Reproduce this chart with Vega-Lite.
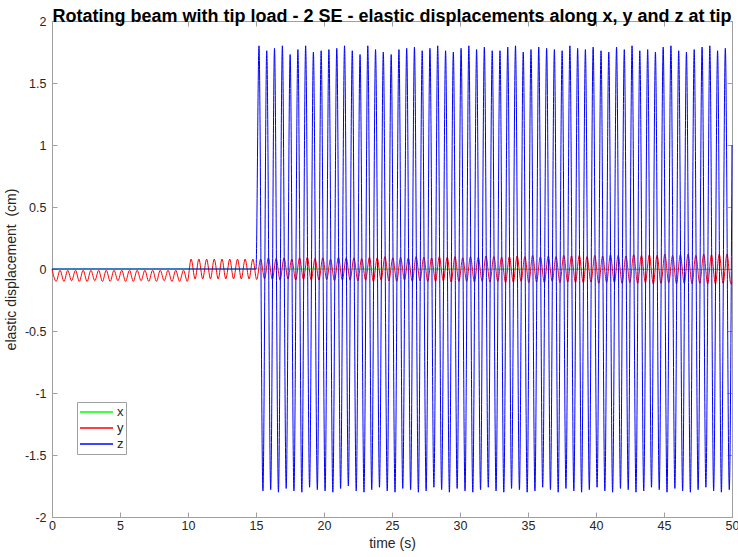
{
  "$schema": "https://vega.github.io/schema/vega-lite/v6.json",
  "width": 680,
  "height": 496,
  "autosize": {"type": "none"},
  "padding": {"left": 52, "top": 21, "right": 6, "bottom": 40},
  "background": "white",
  "title": {"text": "Rotating beam with tip load - 2 SE - elastic displacements along x, y and z at tip", "font": "Liberation Sans", "fontSize": 18, "fontWeight": "bold", "color": "#000000", "anchor": "middle", "frame": "group", "offset": -11},
  "config": {
    "view": {"stroke": "#a0a0a0"},
    "axis": {"domainColor": "#a0a0a0", "tickColor": "#a0a0a0", "tickSize": -5, "labelFont": "Liberation Sans", "labelFontSize": 12.5, "labelColor": "#262626", "titleFont": "Liberation Sans", "titleFontSize": 14, "titleFontWeight": "normal", "titleColor": "#262626", "grid": false}
  },
  "data": {"values": [
    {"s":"x","t":0,"v":0},{"s":"x","t":15,"v":0},{"s":"x","t":50,"v":-0.003},
    {"s":"y","t":0,"v":0},
    {"s":"y","t":0.31,"v":-0.1},{"s":"y","t":0.59,"v":-0.01},{"s":"y","t":0.88,"v":-0.1},{"s":"y","t":1.16,"v":-0.01},{"s":"y","t":1.44,"v":-0.095},{"s":"y","t":1.73,"v":-0.01},{"s":"y","t":2.01,"v":-0.1},{"s":"y","t":2.29,"v":-0.01},{"s":"y","t":2.58,"v":-0.1},{"s":"y","t":2.86,"v":-0.01},{"s":"y","t":3.15,"v":-0.095},{"s":"y","t":3.43,"v":-0.01},{"s":"y","t":3.71,"v":-0.1},{"s":"y","t":3.99,"v":-0.01},{"s":"y","t":4.28,"v":-0.1},{"s":"y","t":4.56,"v":-0.01},{"s":"y","t":4.85,"v":-0.095},{"s":"y","t":5.13,"v":-0.01},{"s":"y","t":5.41,"v":-0.1},{"s":"y","t":5.70,"v":-0.01},{"s":"y","t":5.98,"v":-0.1},{"s":"y","t":6.26,"v":-0.01},{"s":"y","t":6.55,"v":-0.095},{"s":"y","t":6.83,"v":-0.01},{"s":"y","t":7.11,"v":-0.1},{"s":"y","t":7.40,"v":-0.01},{"s":"y","t":7.68,"v":-0.1},{"s":"y","t":7.96,"v":-0.01},{"s":"y","t":8.25,"v":-0.095},{"s":"y","t":8.53,"v":-0.01},{"s":"y","t":8.82,"v":-0.1},{"s":"y","t":9.10,"v":-0.01},{"s":"y","t":9.38,"v":-0.1},{"s":"y","t":9.67,"v":-0.01},{"s":"y","t":9.95,"v":-0.1},
    {"s":"y","t":10.23,"v":0.08},{"s":"y","t":10.52,"v":-0.08},{"s":"y","t":10.80,"v":0.08},{"s":"y","t":11.08,"v":-0.08},{"s":"y","t":11.37,"v":0.08},{"s":"y","t":11.65,"v":-0.08},{"s":"y","t":11.93,"v":0.08},{"s":"y","t":12.22,"v":-0.08},{"s":"y","t":12.50,"v":0.08},{"s":"y","t":12.78,"v":-0.08},{"s":"y","t":13.07,"v":0.08},{"s":"y","t":13.35,"v":-0.08},{"s":"y","t":13.64,"v":0.08},{"s":"y","t":13.92,"v":-0.08},{"s":"y","t":14.20,"v":0.08},{"s":"y","t":14.49,"v":-0.08},{"s":"y","t":14.77,"v":0.08},{"s":"y","t":15.05,"v":-0.085},
    {"s":"y","t":15.34,"v":0.08},{"s":"y","t":15.63,"v":-0.08},{"s":"y","t":15.91,"v":0.09},{"s":"y","t":16.20,"v":-0.085},{"s":"y","t":16.48,"v":0.085},{"s":"y","t":16.77,"v":-0.09},{"s":"y","t":17.06,"v":0.09},{"s":"y","t":17.35,"v":-0.08},{"s":"y","t":17.63,"v":0.08},{"s":"y","t":17.92,"v":-0.09},{"s":"y","t":18.20,"v":0.09},{"s":"y","t":18.49,"v":-0.085},{"s":"y","t":18.77,"v":0.095},{"s":"y","t":19.06,"v":-0.09},{"s":"y","t":19.34,"v":0.085},{"s":"y","t":19.63,"v":-0.09},{"s":"y","t":19.91,"v":0.09},{"s":"y","t":20.20,"v":-0.085},{"s":"y","t":20.48,"v":0.08},{"s":"y","t":20.77,"v":-0.095},{"s":"y","t":21.06,"v":0.095},{"s":"y","t":21.35,"v":-0.09},{"s":"y","t":21.63,"v":0.09},{"s":"y","t":21.92,"v":-0.09},{"s":"y","t":22.20,"v":0.09},{"s":"y","t":22.49,"v":-0.095},{"s":"y","t":22.77,"v":0.085},{"s":"y","t":23.06,"v":-0.09},{"s":"y","t":23.34,"v":0.095},{"s":"y","t":23.63,"v":-0.1},{"s":"y","t":23.91,"v":0.09},{"s":"y","t":24.20,"v":-0.09},{"s":"y","t":24.48,"v":0.1},{"s":"y","t":24.77,"v":-0.095},{"s":"y","t":25.06,"v":0.09},{"s":"y","t":25.35,"v":-0.1},{"s":"y","t":25.63,"v":0.095},{"s":"y","t":25.92,"v":-0.09},{"s":"y","t":26.20,"v":0.09},{"s":"y","t":26.49,"v":-0.1},{"s":"y","t":26.77,"v":0.1},{"s":"y","t":27.06,"v":-0.095},{"s":"y","t":27.34,"v":0.095},{"s":"y","t":27.63,"v":-0.1},{"s":"y","t":27.91,"v":0.09},{"s":"y","t":28.20,"v":-0.1},{"s":"y","t":28.48,"v":0.1},{"s":"y","t":28.77,"v":-0.095},{"s":"y","t":29.06,"v":0.095},{"s":"y","t":29.35,"v":-0.105},{"s":"y","t":29.63,"v":0.1},{"s":"y","t":29.92,"v":-0.1},{"s":"y","t":30.20,"v":0.09},{"s":"y","t":30.49,"v":-0.1},{"s":"y","t":30.77,"v":0.1},{"s":"y","t":31.06,"v":-0.105},{"s":"y","t":31.34,"v":0.095},{"s":"y","t":31.63,"v":-0.1},{"s":"y","t":31.91,"v":0.105},{"s":"y","t":32.20,"v":-0.105},{"s":"y","t":32.49,"v":0.1},{"s":"y","t":32.78,"v":-0.1},{"s":"y","t":33.06,"v":0.095},{"s":"y","t":33.35,"v":-0.11},{"s":"y","t":33.63,"v":0.1},{"s":"y","t":33.92,"v":-0.105},{"s":"y","t":34.20,"v":0.105},{"s":"y","t":34.49,"v":-0.1},{"s":"y","t":34.77,"v":0.1},{"s":"y","t":35.06,"v":-0.11},{"s":"y","t":35.34,"v":0.11},{"s":"y","t":35.63,"v":-0.105},{"s":"y","t":35.91,"v":0.1},{"s":"y","t":36.20,"v":-0.11},{"s":"y","t":36.49,"v":0.105},{"s":"y","t":36.78,"v":-0.1},{"s":"y","t":37.06,"v":0.1},{"s":"y","t":37.35,"v":-0.11},{"s":"y","t":37.63,"v":0.11},{"s":"y","t":37.92,"v":-0.105},{"s":"y","t":38.20,"v":0.105},{"s":"y","t":38.49,"v":-0.11},{"s":"y","t":38.77,"v":0.11},{"s":"y","t":39.06,"v":-0.11},{"s":"y","t":39.34,"v":0.1},{"s":"y","t":39.63,"v":-0.105},{"s":"y","t":39.91,"v":0.11},{"s":"y","t":40.20,"v":-0.115},{"s":"y","t":40.49,"v":0.105},{"s":"y","t":40.78,"v":-0.11},{"s":"y","t":41.06,"v":0.115},{"s":"y","t":41.35,"v":-0.11},{"s":"y","t":41.63,"v":0.11},{"s":"y","t":41.92,"v":-0.115},{"s":"y","t":42.20,"v":0.105},{"s":"y","t":42.49,"v":-0.11},{"s":"y","t":42.77,"v":0.115},{"s":"y","t":43.06,"v":-0.115},{"s":"y","t":43.34,"v":0.11},{"s":"y","t":43.63,"v":-0.11},{"s":"y","t":43.92,"v":0.115},{"s":"y","t":44.21,"v":-0.12},{"s":"y","t":44.49,"v":0.11},{"s":"y","t":44.78,"v":-0.115},{"s":"y","t":45.06,"v":0.12},{"s":"y","t":45.35,"v":-0.11},{"s":"y","t":45.63,"v":0.11},{"s":"y","t":45.92,"v":-0.12},{"s":"y","t":46.20,"v":0.115},{"s":"y","t":46.49,"v":-0.115},{"s":"y","t":46.77,"v":0.12},{"s":"y","t":47.06,"v":-0.12},{"s":"y","t":47.34,"v":0.11},{"s":"y","t":47.63,"v":-0.115},{"s":"y","t":47.92,"v":0.12},{"s":"y","t":48.21,"v":-0.12},{"s":"y","t":48.49,"v":0.115},{"s":"y","t":48.78,"v":-0.12},{"s":"y","t":49.06,"v":0.12},{"s":"y","t":49.35,"v":-0.115},{"s":"y","t":49.63,"v":0.12},{"s":"y","t":49.92,"v":-0.12},{"s":"y","t":50,"v":-0.11},
    {"s":"z","t":0,"v":0},{"s":"z","t":15,"v":0},
    {"s":"z","t":15.22,"v":1.80},{"s":"z","t":15.51,"v":-1.79},{"s":"z","t":15.79,"v":1.76},{"s":"z","t":16.08,"v":-1.78},{"s":"z","t":16.36,"v":1.78},{"s":"z","t":16.65,"v":-1.80},{"s":"z","t":16.94,"v":1.80},{"s":"z","t":17.22,"v":-1.77},{"s":"z","t":17.51,"v":1.73},{"s":"z","t":17.79,"v":-1.79},{"s":"z","t":18.08,"v":1.77},{"s":"z","t":18.37,"v":-1.80},{"s":"z","t":18.65,"v":1.80},{"s":"z","t":18.94,"v":-1.76},{"s":"z","t":19.22,"v":1.75},{"s":"z","t":19.51,"v":-1.78},{"s":"z","t":19.79,"v":1.76},{"s":"z","t":20.08,"v":-1.79},{"s":"z","t":20.36,"v":1.77},{"s":"z","t":20.65,"v":-1.80},{"s":"z","t":20.94,"v":1.78},{"s":"z","t":21.22,"v":-1.77},{"s":"z","t":21.51,"v":1.80},{"s":"z","t":21.79,"v":-1.75},{"s":"z","t":22.08,"v":1.76},{"s":"z","t":22.37,"v":-1.79},{"s":"z","t":22.65,"v":1.73},{"s":"z","t":22.94,"v":-1.80},{"s":"z","t":23.22,"v":1.80},{"s":"z","t":23.51,"v":-1.78},{"s":"z","t":23.79,"v":1.77},{"s":"z","t":24.08,"v":-1.76},{"s":"z","t":24.36,"v":1.75},{"s":"z","t":24.65,"v":-1.79},{"s":"z","t":24.94,"v":1.73},{"s":"z","t":25.22,"v":-1.80},{"s":"z","t":25.51,"v":1.77},{"s":"z","t":25.79,"v":-1.77},{"s":"z","t":26.08,"v":1.78},{"s":"z","t":26.37,"v":-1.78},{"s":"z","t":26.65,"v":1.79},{"s":"z","t":26.94,"v":-1.80},{"s":"z","t":27.22,"v":1.76},{"s":"z","t":27.51,"v":-1.79},{"s":"z","t":27.79,"v":1.78},{"s":"z","t":28.08,"v":-1.76},{"s":"z","t":28.36,"v":1.80},{"s":"z","t":28.65,"v":-1.78},{"s":"z","t":28.94,"v":1.76},{"s":"z","t":29.22,"v":-1.80},{"s":"z","t":29.51,"v":1.75},{"s":"z","t":29.79,"v":-1.77},{"s":"z","t":30.08,"v":1.78},{"s":"z","t":30.37,"v":-1.79},{"s":"z","t":30.65,"v":1.80},{"s":"z","t":30.94,"v":-1.80},{"s":"z","t":31.22,"v":1.77},{"s":"z","t":31.51,"v":-1.78},{"s":"z","t":31.79,"v":1.79},{"s":"z","t":32.08,"v":-1.76},{"s":"z","t":32.37,"v":1.76},{"s":"z","t":32.65,"v":-1.79},{"s":"z","t":32.94,"v":1.76},{"s":"z","t":33.22,"v":-1.80},{"s":"z","t":33.51,"v":1.79},{"s":"z","t":33.79,"v":-1.77},{"s":"z","t":34.08,"v":1.80},{"s":"z","t":34.37,"v":-1.78},{"s":"z","t":34.65,"v":1.75},{"s":"z","t":34.94,"v":-1.80},{"s":"z","t":35.22,"v":1.77},{"s":"z","t":35.51,"v":-1.79},{"s":"z","t":35.79,"v":1.79},{"s":"z","t":36.08,"v":-1.76},{"s":"z","t":36.37,"v":1.78},{"s":"z","t":36.65,"v":-1.78},{"s":"z","t":36.94,"v":1.77},{"s":"z","t":37.22,"v":-1.80},{"s":"z","t":37.51,"v":1.76},{"s":"z","t":37.79,"v":-1.77},{"s":"z","t":38.08,"v":1.80},{"s":"z","t":38.37,"v":-1.79},{"s":"z","t":38.65,"v":1.78},{"s":"z","t":38.94,"v":-1.80},{"s":"z","t":39.22,"v":1.77},{"s":"z","t":39.51,"v":-1.78},{"s":"z","t":39.79,"v":1.79},{"s":"z","t":40.08,"v":-1.76},{"s":"z","t":40.37,"v":1.76},{"s":"z","t":40.65,"v":-1.79},{"s":"z","t":40.94,"v":1.75},{"s":"z","t":41.22,"v":-1.80},{"s":"z","t":41.51,"v":1.79},{"s":"z","t":41.80,"v":-1.77},{"s":"z","t":42.08,"v":1.77},{"s":"z","t":42.37,"v":-1.78},{"s":"z","t":42.65,"v":1.80},{"s":"z","t":42.94,"v":-1.80},{"s":"z","t":43.22,"v":1.76},{"s":"z","t":43.51,"v":-1.79},{"s":"z","t":43.80,"v":1.77},{"s":"z","t":44.08,"v":-1.76},{"s":"z","t":44.37,"v":1.75},{"s":"z","t":44.65,"v":-1.78},{"s":"z","t":44.94,"v":1.79},{"s":"z","t":45.22,"v":-1.80},{"s":"z","t":45.51,"v":1.80},{"s":"z","t":45.80,"v":-1.77},{"s":"z","t":46.08,"v":1.76},{"s":"z","t":46.37,"v":-1.79},{"s":"z","t":46.65,"v":1.75},{"s":"z","t":46.94,"v":-1.80},{"s":"z","t":47.22,"v":1.77},{"s":"z","t":47.51,"v":-1.78},{"s":"z","t":47.80,"v":1.79},{"s":"z","t":48.08,"v":-1.76},{"s":"z","t":48.37,"v":1.80},{"s":"z","t":48.65,"v":-1.79},{"s":"z","t":48.94,"v":1.76},{"s":"z","t":49.22,"v":-1.80},{"s":"z","t":49.51,"v":1.78},{"s":"z","t":49.80,"v":-1.78},{"s":"z","t":50,"v":1.0}
  ]},
  "layer": [
    {
      "mark": {"type": "line", "strokeWidth": 1, "interpolate": "monotone"},
      "encoding": {
        "x": {"field": "t", "type": "quantitative", "scale": {"domain": [0, 50], "nice": false, "zero": false},
              "axis": {"orient": "bottom", "values": [0,5,10,15,20,25,30,35,40,45,50], "title": "time (s)", "labelPadding": 7, "titlePadding": 5, "labelFlush": false}},
        "y": {"field": "v", "type": "quantitative", "scale": {"domain": [-2, 2], "nice": false},
              "axis": {"orient": "left", "values": [-2,-1.5,-1,-0.5,0,0.5,1,1.5,2], "labelExpr": "'' + datum.value", "title": "elastic displacement\u00a0 (cm)", "labelPadding": 11, "titlePadding": 6, "labelFlush": false}},
        "color": {"field": "s", "type": "nominal", "scale": {"domain": ["x", "y", "z"], "range": ["#00ff00", "#ff0000", "#0000ff"]},
                  "legend": {"orient": "none", "legendX": 25, "legendY": 381, "title": null, "symbolType": "stroke", "symbolSize": 1089, "symbolStrokeWidth": 1.5, "clipHeight": 16, "rowPadding": 0, "labelFont": "Liberation Sans", "labelFontSize": 13, "labelColor": "#262626", "labelOffset": 3, "padding": 2, "strokeColor": "#a0a0a0", "fillColor": "white"}}
      }
    },
    {
      "mark": {"type": "point", "opacity": 0, "size": 0},
      "encoding": {
        "x": {"field": "t", "type": "quantitative", "axis": {"orient": "top", "values": [0,5,10,15,20,25,30,35,40,45,50], "labels": false, "title": null}},
        "y": {"field": "v", "type": "quantitative", "axis": {"orient": "right", "values": [-2,-1.5,-1,-0.5,0,0.5,1,1.5,2], "labels": false, "title": null}}
      }
    }
  ],
  "resolve": {"axis": {"x": "independent", "y": "independent"}}
}
